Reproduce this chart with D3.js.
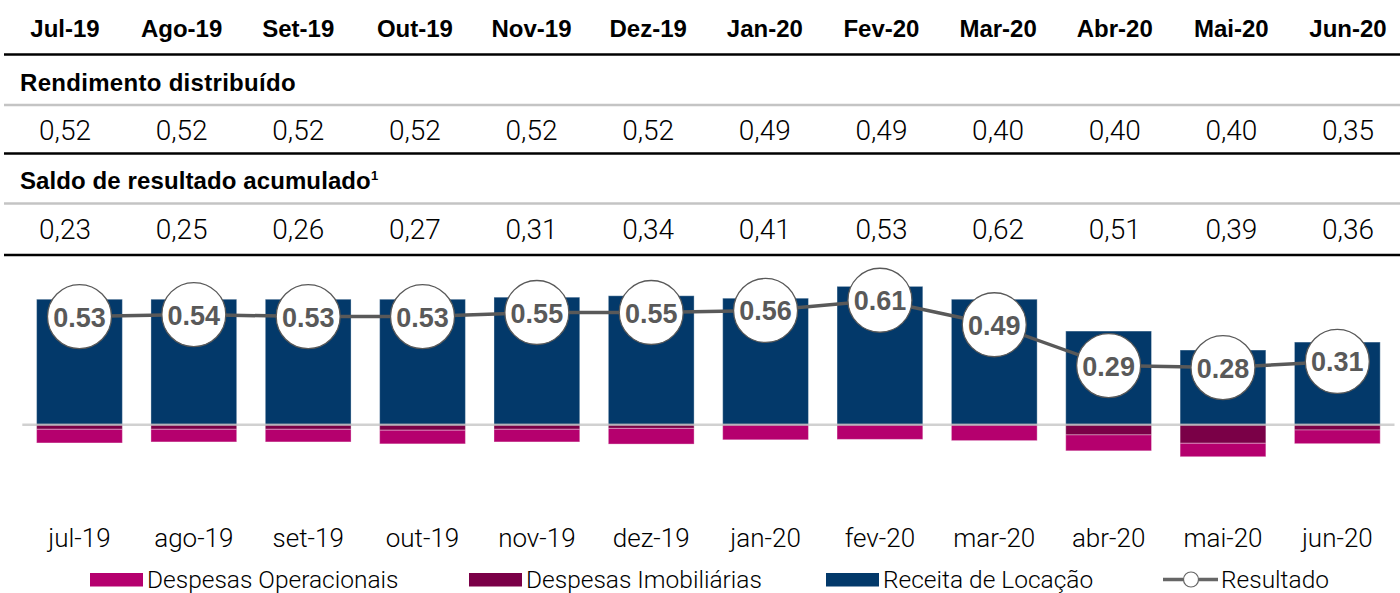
<!DOCTYPE html>
<html><head><meta charset="utf-8">
<script src="https://cdn.jsdelivr.net/npm/d3@7"></script>
<style>
html,body{margin:0;padding:0;background:#fff;}
svg{display:block;}
</style></head>
<body>
<svg id="chart" width="1400" height="593"></svg>
<script>
const headerMonths = ["Jul-19","Ago-19","Set-19","Out-19","Nov-19","Dez-19","Jan-20","Fev-20","Mar-20","Abr-20","Mai-20","Jun-20"];
const rendimento = [0.52,0.52,0.52,0.52,0.52,0.52,0.49,0.49,0.40,0.40,0.40,0.35];
const saldo = [0.23,0.25,0.26,0.27,0.31,0.34,0.41,0.53,0.62,0.51,0.39,0.36];
const months = ["jul-19","ago-19","set-19","out-19","nov-19","dez-19","jan-20","fev-20","mar-20","abr-20","mai-20","jun-20"];
const receita = [0.615,0.615,0.615,0.615,0.625,0.632,0.620,0.678,0.615,0.459,0.366,0.405];
const despImob = [0.0225,0.0225,0.0225,0.027,0.0225,0.018,0,0,0,0.05,0.091,0.026];
const despOper = [0.067,0.062,0.062,0.067,0.062,0.077,0.074,0.072,0.078,0.078,0.066,0.067];
const resultado = [0.53,0.54,0.53,0.53,0.55,0.55,0.56,0.61,0.49,0.29,0.28,0.31];
const legendItems = ["Despesas Operacionais","Despesas Imobiliárias","Receita de Locação","Resultado"];

const C = {navy:"#03396A", pink:"#B5006E", dark:"#7A0047", line:"#595959"};
const svg = d3.select("#chart");
const fmtComma = v => d3.format(".2f")(v).replace(".", ",");

// ---------- Table ----------
const tx = d3.scalePoint().domain(headerMonths).range([65, 1348]);
const hLines = [{y:54.5,c:"#000"},{y:105,c:"#c4c4c4"},{y:153.5,c:"#000"},{y:203.5,c:"#c4c4c4"},{y:255,c:"#000"}];
svg.selectAll("line.tbl").data(hLines).join("line").attr("class","tbl")
  .attr("x1",4).attr("x2",1400).attr("y1",d=>d.y).attr("y2",d=>d.y)
  .attr("stroke",d=>d.c).attr("stroke-width",2.5);

svg.selectAll("text.hdr").data(headerMonths).join("text").attr("class","hdr")
  .attr("x",d=>tx(d)).attr("y",37).attr("text-anchor","middle")
  .style("font-family","'Liberation Sans',Arial,sans-serif").style("font-weight","bold")
  .style("font-size","24px").attr("fill","#000").text(d=>d);

svg.append("text").attr("x",20).attr("y",91)
  .style("font-family","'Liberation Sans',Arial,sans-serif").style("font-weight","bold")
  .style("font-size","24px").style("letter-spacing","0.3px").text("Rendimento distribuído");
const st = svg.append("text").attr("x",20).attr("y",188.5)
  .style("font-family","'Liberation Sans',Arial,sans-serif").style("font-weight","bold")
  .style("font-size","24px").style("letter-spacing","0.1px");
st.append("tspan").text("Saldo de resultado acumulado");
st.append("tspan").attr("dy",-9).style("font-size","13px").text("1");

const valFont = "Roboto,'Liberation Sans',Arial,sans-serif";
svg.selectAll("text.rend").data(rendimento).join("text").attr("class","rend")
  .attr("x",(d,i)=>tx(headerMonths[i])).attr("y",139.5).attr("text-anchor","middle")
  .style("font-family",valFont).style("font-weight","300").style("font-size","28px")
  .attr("fill","#000").text(d=>fmtComma(d));
svg.selectAll("text.saldo").data(saldo).join("text").attr("class","saldo")
  .attr("x",(d,i)=>tx(headerMonths[i])).attr("y",238.5).attr("text-anchor","middle")
  .style("font-family",valFont).style("font-weight","300").style("font-size","28px")
  .attr("fill","#000").text(d=>fmtComma(d));

// ---------- Chart ----------
const x = d3.scaleBand().domain(months).range([22.3,1394.5]).paddingInner(0.25).paddingOuter(0.125);
const y = d3.scaleLinear().domain([-0.3,0.7]).range([485.9,281.9]);

const bw = x.bandwidth();
const barStroke = "rgba(255,255,255,0.35)";
svg.append("g").selectAll("rect").data(receita).join("rect")
  .attr("x",(d,i)=>x(months[i])).attr("width",bw)
  .attr("y",d=>y(d)).attr("height",d=>y(0)-y(d))
  .attr("fill",C.navy).attr("stroke",barStroke).attr("stroke-width",1);
svg.append("g").selectAll("rect").data(despImob).join("rect")
  .attr("x",(d,i)=>x(months[i])).attr("width",bw)
  .attr("y",y(0)).attr("height",d=>y(-d)-y(0))
  .attr("fill",C.dark).attr("stroke",d=>d>0?barStroke:"none").attr("stroke-width",1);
svg.append("g").selectAll("rect").data(despOper).join("rect")
  .attr("x",(d,i)=>x(months[i])).attr("width",bw)
  .attr("y",(d,i)=>y(-despImob[i])).attr("height",(d,i)=>y(-despImob[i]-d)-y(-despImob[i]))
  .attr("fill",C.pink).attr("stroke",barStroke).attr("stroke-width",1);

svg.append("line").attr("x1",x.range()[0]).attr("x2",x.range()[1])
  .attr("y1",y(0)).attr("y2",y(0)).attr("stroke","#bdbdbd").attr("stroke-opacity",0.7).attr("stroke-width",2.5);

const cx = (i)=>x(months[i])+bw/2;
const lineGen = d3.line().x((d,i)=>cx(i)).y(d=>y(d));
svg.append("path").datum(resultado).attr("d",lineGen)
  .attr("fill","none").attr("stroke",C.line).attr("stroke-width",3.5);
const pts = svg.append("g").selectAll("g").data(resultado).join("g")
  .attr("transform",(d,i)=>`translate(${cx(i)},${y(d)})`);
pts.append("circle").attr("r",32).attr("fill","#fff").attr("stroke",C.line).attr("stroke-width",1.3);
pts.append("text").attr("y",10).attr("text-anchor","middle")
  .style("font-family","'Liberation Sans',Arial,sans-serif").style("font-weight","bold")
  .style("font-size","27px").attr("fill",C.line).text(d=>d3.format(".2f")(d));

svg.selectAll("text.xl").data(months).join("text").attr("class","xl")
  .attr("x",d=>x(d)+bw/2).attr("y",547).attr("text-anchor","middle")
  .style("font-family",valFont).style("font-weight","300").style("font-size","26px")
  .attr("fill","#000").text(d=>d);

const lg = svg.append("g").style("font-family",valFont).style("font-weight","300").style("font-size","24.5px");
const lgX = [90,469,826];
const lgC = [C.pink,C.dark,C.navy];
legendItems.slice(0,3).forEach((t,i)=>{
  lg.append("rect").attr("x",lgX[i]).attr("y",573).attr("width",53).attr("height",13.5).attr("fill",lgC[i]);
  lg.append("text").attr("x",lgX[i]+57).attr("y",587.5).text(t);
});
lg.append("line").attr("x1",1163).attr("x2",1218).attr("y1",579.5).attr("y2",579.5).attr("stroke","#666").attr("stroke-width",3.5);
lg.append("circle").attr("cx",1191).attr("cy",579.5).attr("r",7.5).attr("fill","#fff").attr("stroke","#666").attr("stroke-width",1.2);
lg.append("text").attr("x",1221).attr("y",587.5).text(legendItems[3]);
</script>
</body></html>
